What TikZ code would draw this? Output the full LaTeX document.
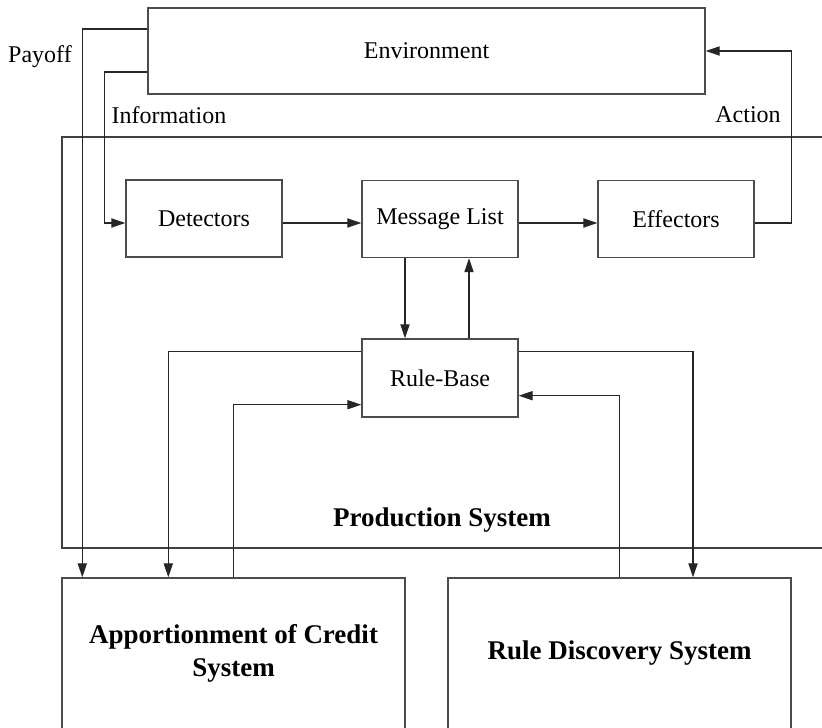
\documentclass[tikz,border=0pt]{standalone}
\usepackage{fontspec}
\setmainfont{Liberation Serif}
\usetikzlibrary{arrows.meta,calc}
\begin{document}
\begin{tikzpicture}[x=0.5pt,y=-0.5pt,
  box/.style={draw=black!70,line width=0.7pt,inner sep=0pt,minimum width=78pt,minimum height=38.5pt,font=\fontsize{12}{14}\selectfont},
  bigbox/.style={draw=black!70,line width=0.7pt,inner sep=0pt,minimum width=171.5pt,minimum height=80pt},
  frame/.style={draw=black!75,line width=0.7pt},
  conn/.style={draw=black!85,line width=0.6pt,-{Triangle[length=7pt,width=4.6pt]}},
  plain/.style={draw=black!85,line width=0.6pt},
  lbl/.style={font=\fontsize{12}{14}\selectfont,inner sep=0pt},
  title/.style={font=\fontsize{13.5}{16.5}\selectfont\bfseries,align=center,inner sep=0pt}]
\useasboundingbox (0,0) rectangle (822,727);
\clip (0,0) rectangle (822,727);

% outer frame of the production system (open to the right)
\draw[frame] (840,137) -- (62,137) -- (62,548) -- (840,548);
\node[title] (prodlbl) at (442,520) {Production System};

% boxes
\node[box,minimum width=278.5pt,minimum height=43pt] (env) at (426.5,51) {Environment};
\node[box] (det) at (204,218.5) {Detectors};
\node[box] (msg) at (440,219) {Message List};
\node[box] (eff) at (676,219) {Effectors};
\node[box,minimum height=39pt] (rb) at (440,378) {Rule-Base};
\node[bigbox] (apc) at (233.5,658) {};
\node[bigbox] (rds) at (619.5,658) {};
\node[title] (apclbl) at (233.5,653) {Apportionment of Credit\\System};
\node[title] (rdslbl) at (619.5,653) {Rule Discovery System};

% labels
\node[lbl] (payoff) at (40,57) {Payoff};
\node[lbl] (info) at (169,115) {Information};
\node[lbl] (action) at (748,115) {Action};

% helper coordinates for the routing levels
\coordinate (payY) at (0,29);
\coordinate (infoY) at (0,72);
\coordinate (row) at (0,223);

% environment to the classifier system
\draw[conn] (env.west |- payY) -| ($(apc.north west)+(21,0)$);
\draw[conn] (env.west |- infoY) -| ($(det.west |- row)+(-21,0)$) -- (det.west |- row);

% message flow
\draw[conn] (det.east |- row) -- (msg.west |- row);
\draw[conn] (msg.east |- row) -- (eff.east |- row -| eff.west);
\draw[conn] (eff.east |- row) -- ++(37,0) |- (env.east);

% message list and rule base
\draw[conn] ($(msg.south)+(-35,0)$) -- ($(rb.north)+(-35,0)$);
\draw[conn] ($(rb.north)+(29,0)$) -- ($(msg.south)+(29,0)$);

% rule base and the two subsystems
\draw[conn] ($(rb.north west)+(0,13)$) -| ($(apc.north west)+(107,0)$);
\draw[conn] (apc.north) |- ($(rb.south west)+(0,-13)$);
\draw[conn] ($(rb.north east)+(0,13)$) -| ($(rds.north)+(73.5,0)$);
\draw[conn] (rds.north) |- ($(rb.south east)+(0,-22)$);
\end{tikzpicture}
\end{document}
